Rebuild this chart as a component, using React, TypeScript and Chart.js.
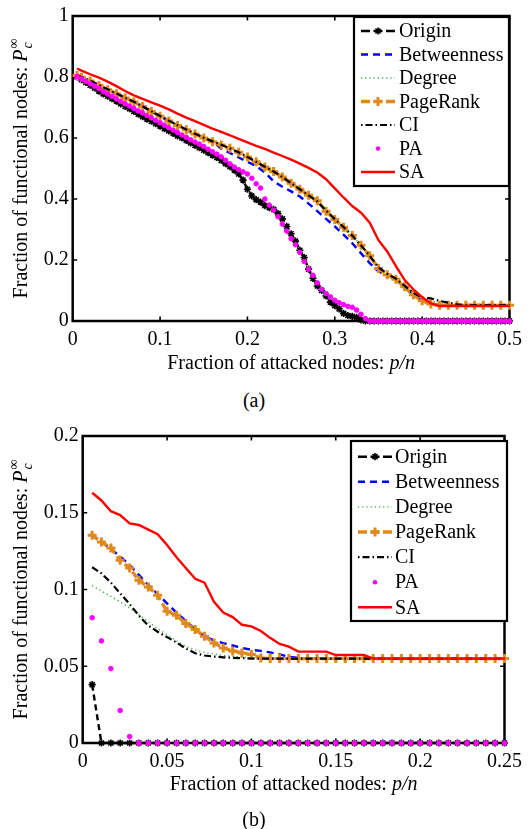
import React, { useEffect, useRef } from "react";
import { Chart, registerables } from "chart.js";

Chart.register(...registerables);

const FONT_FAMILY = '"Liberation Serif", "Times New Roman", Times, serif';

const SERIES_NAMES = ["Origin", "Betweenness", "Degree", "PageRank", "CI", "PA", "SA"];

// ---------------- Panel (a) data ----------------
const XA_FINE = [
  0.005, 0.01, 0.015, 0.02, 0.025, 0.03, 0.035, 0.04, 0.045, 0.05,
  0.055, 0.06, 0.065, 0.07, 0.075, 0.08, 0.085, 0.09, 0.095, 0.1,
  0.105, 0.11, 0.115, 0.12, 0.125, 0.13, 0.135, 0.14, 0.145, 0.15,
  0.155, 0.16, 0.165, 0.17, 0.175, 0.18, 0.185, 0.19, 0.195, 0.2,
  0.205, 0.21, 0.215, 0.22, 0.225, 0.23, 0.235, 0.24, 0.245, 0.25,
  0.255, 0.26, 0.265, 0.27, 0.275, 0.28, 0.285, 0.29, 0.295, 0.3,
  0.305, 0.31, 0.315, 0.32, 0.325, 0.33, 0.335, 0.34, 0.345, 0.35,
  0.355, 0.36, 0.365, 0.37, 0.375, 0.38, 0.385, 0.39, 0.395, 0.4,
  0.405, 0.41, 0.415, 0.42, 0.425, 0.43, 0.435, 0.44, 0.445, 0.45,
  0.455, 0.46, 0.465, 0.47, 0.475, 0.48, 0.485, 0.49, 0.495, 0.5,
];

const XA_COARSE = [
  0.005, 0.01, 0.02, 0.03, 0.04, 0.05, 0.06, 0.07, 0.08, 0.09, 0.1,
  0.11, 0.12, 0.13, 0.14, 0.15, 0.16, 0.17, 0.18, 0.19, 0.2,
  0.21, 0.22, 0.23, 0.24, 0.25, 0.26, 0.27, 0.28, 0.29, 0.3,
  0.31, 0.32, 0.33, 0.34, 0.35, 0.36, 0.37, 0.38, 0.39, 0.4,
  0.41, 0.42, 0.43, 0.44, 0.45, 0.46, 0.47, 0.48, 0.49, 0.5,
];

const ORIGIN_A = [
  0.800, 0.791, 0.782, 0.773, 0.764, 0.754, 0.745, 0.737, 0.729, 0.721,
  0.712, 0.704, 0.696, 0.687, 0.678, 0.670, 0.662, 0.655, 0.647, 0.639,
  0.631, 0.623, 0.615, 0.607, 0.600, 0.592, 0.584, 0.576, 0.568, 0.560,
  0.552, 0.544, 0.536, 0.527, 0.516, 0.506, 0.495, 0.482, 0.462, 0.432,
  0.410, 0.398, 0.390, 0.378, 0.372, 0.366, 0.352, 0.335, 0.310, 0.286,
  0.262, 0.232, 0.208, 0.170, 0.140, 0.115, 0.100, 0.082, 0.062, 0.050,
  0.040, 0.025, 0.018, 0.015, 0.012, 0.004, 0, 0, 0, 0,
  0, 0, 0, 0, 0, 0, 0, 0, 0, 0,
  0, 0, 0, 0, 0, 0, 0, 0, 0, 0,
  0, 0, 0, 0, 0, 0, 0, 0, 0, 0,
];

const PA_A = [
  0.802, 0.794, 0.786, 0.778, 0.770, 0.762, 0.752, 0.744, 0.736, 0.728,
  0.720, 0.712, 0.705, 0.697, 0.689, 0.682, 0.674, 0.666, 0.658, 0.650,
  0.642, 0.634, 0.626, 0.618, 0.610, 0.602, 0.594, 0.587, 0.580, 0.572,
  0.563, 0.555, 0.547, 0.538, 0.527, 0.515, 0.505, 0.496, 0.489, 0.482,
  0.468, 0.450, 0.436, 0.400, 0.380, 0.364, 0.342, 0.318, 0.295, 0.270,
  0.250, 0.225, 0.195, 0.170, 0.150, 0.125, 0.104, 0.090, 0.079, 0.068,
  0.060, 0.054, 0.048, 0.045, 0.036, 0.022, 0.008, 0, 0, 0,
  0, 0, 0, 0, 0, 0, 0, 0, 0, 0,
  0, 0, 0, 0, 0, 0, 0, 0, 0, 0,
  0, 0, 0, 0, 0, 0, 0, 0, 0, 0,
];

const PAGERANK_A = [
  0.805, 0.799, 0.787, 0.772, 0.758, 0.745, 0.731, 0.718, 0.703, 0.687, 0.671,
  0.656, 0.641, 0.627, 0.613, 0.600, 0.588, 0.577, 0.566, 0.553, 0.538,
  0.522, 0.505, 0.490, 0.472, 0.452, 0.432, 0.412, 0.394, 0.360, 0.333,
  0.307, 0.280, 0.248, 0.214, 0.172, 0.152, 0.137, 0.112, 0.086, 0.066,
  0.056, 0.052, 0.052, 0.052, 0.052, 0.052, 0.052, 0.052, 0.052, 0.052,
];

const BETWEENNESS_A = [
  0.805, 0.799, 0.787, 0.772, 0.758, 0.745, 0.731, 0.718, 0.703, 0.687, 0.671,
  0.656, 0.641, 0.627, 0.613, 0.600, 0.588, 0.565, 0.551, 0.536, 0.522,
  0.508, 0.487, 0.458, 0.440, 0.425, 0.408, 0.385, 0.360, 0.335, 0.310,
  0.283, 0.255, 0.222, 0.190, 0.162, 0.150, 0.135, 0.110, 0.085, 0.066,
  0.056, 0.052, 0.052, 0.052, 0.052, 0.052, 0.052, 0.052, 0.052, 0.052,
];

const DEGREE_A = [
  0.805, 0.799, 0.787, 0.772, 0.758, 0.745, 0.731, 0.718, 0.703, 0.687, 0.671,
  0.656, 0.641, 0.627, 0.613, 0.600, 0.588, 0.577, 0.566, 0.553, 0.538,
  0.522, 0.508, 0.497, 0.478, 0.452, 0.432, 0.412, 0.394, 0.360, 0.333,
  0.307, 0.280, 0.248, 0.214, 0.174, 0.154, 0.139, 0.114, 0.090, 0.075,
  0.066, 0.058, 0.054, 0.052, 0.052, 0.052, 0.052, 0.052, 0.052, 0.052,
];

const CI_A = [
  0.806, 0.800, 0.788, 0.774, 0.760, 0.746, 0.732, 0.719, 0.704, 0.688, 0.672,
  0.657, 0.642, 0.628, 0.614, 0.601, 0.589, 0.578, 0.566, 0.553, 0.538,
  0.522, 0.506, 0.490, 0.472, 0.452, 0.432, 0.412, 0.392, 0.362, 0.334,
  0.308, 0.280, 0.248, 0.214, 0.176, 0.155, 0.139, 0.115, 0.092, 0.076,
  0.074, 0.066, 0.060, 0.055, 0.052, 0.052, 0.052, 0.052, 0.052, 0.052,
];

const SA_A = [
  0.828, 0.821, 0.809, 0.798, 0.785, 0.770, 0.754, 0.740, 0.728, 0.717, 0.706,
  0.694, 0.680, 0.667, 0.655, 0.643, 0.631, 0.620, 0.609, 0.597, 0.586,
  0.574, 0.564, 0.552, 0.541, 0.529, 0.516, 0.502, 0.487, 0.465, 0.435,
  0.405, 0.377, 0.355, 0.322, 0.265, 0.228, 0.180, 0.134, 0.104, 0.078,
  0.058, 0.049, 0.049, 0.049, 0.049, 0.049, 0.049, 0.049, 0.049, 0.049,
];

const XA_TICKS = [0, 0.1, 0.2, 0.3, 0.4, 0.5];
const YA_TICKS = [0, 0.2, 0.4, 0.6, 0.8, 1];

// ---------------- Panel (b) data ----------------
const XB = [
  0.0056, 0.0111, 0.0167, 0.0222, 0.0278, 0.0333, 0.0389, 0.0444, 0.05, 0.0556,
  0.0611, 0.0667, 0.0722, 0.0778, 0.0833, 0.0889, 0.0944, 0.1, 0.1056, 0.1111,
  0.1167, 0.1222, 0.1278, 0.1333, 0.1389, 0.1444, 0.15, 0.1556, 0.1611, 0.1667,
  0.1722, 0.1778, 0.1833, 0.1889, 0.1944, 0.2, 0.2056, 0.2111, 0.2167, 0.2222,
  0.2278, 0.2333, 0.2389, 0.2444, 0.25,
];

const ORIGIN_B = [
  0.038, 0, 0, 0, 0, 0, 0, 0, 0, 0,
  0, 0, 0, 0, 0, 0, 0, 0, 0, 0,
  0, 0, 0, 0, 0, 0, 0, 0, 0, 0,
  0, 0, 0, 0, 0, 0, 0, 0, 0, 0,
  0, 0, 0, 0, 0,
];

const BETWEENNESS_B = [
  0.1355, 0.131, 0.1265, 0.1215, 0.116, 0.1095, 0.103, 0.097, 0.091, 0.085,
  0.0795, 0.074, 0.0695, 0.0668, 0.065, 0.0635, 0.062, 0.0607, 0.06, 0.059,
  0.0577, 0.0562, 0.0555, 0.055, 0.055, 0.055, 0.055, 0.055, 0.055, 0.055,
  0.055, 0.055, 0.055, 0.055, 0.055, 0.055, 0.055, 0.055, 0.055, 0.055,
  0.055, 0.055, 0.055, 0.055, 0.055,
];

const DEGREE_B = [
  0.1025, 0.099, 0.0955, 0.092, 0.088, 0.0835, 0.079, 0.0745, 0.0705, 0.0665,
  0.063, 0.0605, 0.059, 0.058, 0.057, 0.0565, 0.056, 0.0555, 0.055, 0.055,
  0.055, 0.055, 0.055, 0.055, 0.055, 0.055, 0.055, 0.055, 0.055, 0.055,
  0.055, 0.055, 0.055, 0.055, 0.055, 0.055, 0.055, 0.055, 0.055, 0.055,
  0.055, 0.055, 0.055, 0.055, 0.055,
];

const PAGERANK_B = [
  0.1353, 0.1309, 0.127, 0.119, 0.114, 0.106, 0.1016, 0.0962, 0.0858, 0.0832,
  0.0778, 0.0739, 0.0695, 0.0652, 0.0619, 0.06, 0.0587, 0.0576, 0.0554, 0.055,
  0.055, 0.055, 0.055, 0.055, 0.055, 0.055, 0.055, 0.055, 0.055, 0.055,
  0.055, 0.055, 0.055, 0.055, 0.055, 0.055, 0.055, 0.055, 0.055, 0.055,
  0.055, 0.055, 0.055, 0.055, 0.055,
];

const CI_B = [
  0.1145, 0.1105, 0.1045, 0.0975, 0.0905, 0.083, 0.0765, 0.0725, 0.069, 0.0655,
  0.0615, 0.0585, 0.057, 0.0563, 0.0558, 0.0555, 0.0553, 0.055, 0.055, 0.055,
  0.055, 0.055, 0.055, 0.055, 0.055, 0.055, 0.055, 0.055, 0.055, 0.055,
  0.055, 0.055, 0.055, 0.055, 0.055, 0.055, 0.055, 0.055, 0.055, 0.055,
  0.055, 0.055, 0.055, 0.055, 0.055,
];

const PA_B = [
  0.0816, 0.0665, 0.0485, 0.0212, 0.0042, 0, 0, 0, 0, 0,
  0, 0, 0, 0, 0, 0, 0, 0, 0, 0,
  0, 0, 0, 0, 0, 0, 0, 0, 0, 0,
  0, 0, 0, 0, 0, 0, 0, 0, 0, 0,
  0, 0, 0, 0, 0,
];

const SA_B = [
  0.163, 0.158, 0.151, 0.1485, 0.143, 0.142, 0.139, 0.136, 0.129, 0.121,
  0.114, 0.107, 0.1045, 0.092, 0.085, 0.082, 0.077, 0.076, 0.073, 0.0685,
  0.0645, 0.0628, 0.0595, 0.0595, 0.0595, 0.0595, 0.0573, 0.0573, 0.0573, 0.0573,
  0.055, 0.055, 0.055, 0.055, 0.055, 0.055, 0.055, 0.055, 0.055, 0.055,
  0.055, 0.055, 0.055, 0.055, 0.055,
];

const XB_TICKS = [0, 0.05, 0.1, 0.15, 0.2, 0.25];
const YB_TICKS = [0, 0.05, 0.1, 0.15, 0.2];

// ---------------- Styles ----------------
type Marker = "star" | "cross" | "circle" | null;
type Style = {
  color: string;
  width: number;
  dash: number[];
  legendDash: number[];
  marker: Marker;
  markerSize: number;
  markerWidth: number;
  line: boolean;
  order: number;
};

const STYLES: Record<string, Style> = {
  Origin: { color: "#000000", width: 2.4, dash: [6, 4], legendDash: [9, 3.5], marker: "star", markerSize: 3.6, markerWidth: 1.6, line: true, order: 6 },
  Betweenness: { color: "#0000ff", width: 2.4, dash: [7, 5], legendDash: [7, 5], marker: null, markerSize: 0, markerWidth: 0, line: true, order: 5 },
  Degree: { color: "#3aa83a", width: 1.4, dash: [1.2, 3], legendDash: [1.2, 3], marker: null, markerSize: 0, markerWidth: 0, line: true, order: 4 },
  PageRank: { color: "#e0891c", width: 3.4, dash: [7, 4], legendDash: [9, 3.5], marker: "cross", markerSize: 4.5, markerWidth: 3, line: true, order: 3 },
  CI: { color: "#000000", width: 2.2, dash: [7, 3, 1.5, 3], legendDash: [1.5, 3, 7, 3], marker: null, markerSize: 0, markerWidth: 0, line: true, order: 2 },
  PA: { color: "#ff00ff", width: 0, dash: [], legendDash: [], marker: "circle", markerSize: 2.3, markerWidth: 1, line: false, order: 1 },
  SA: { color: "#ff0000", width: 2.4, dash: [], legendDash: [], marker: null, markerSize: 0, markerWidth: 0, line: true, order: 0 },
};

type Series = { name: string; xs: number[]; ys: number[] };
type PanelSpec = {
  canvasH: number;
  area: { left: number; right: number; top: number; bottom: number };
  xMax: number;
  yMax: number;
  xTicks: number[];
  yTicks: number[];
  xTitleOffset: number;
  yTitleX: number;
  legend: { left: number; right: number; top: number; bottom: number; firstRow: number; rowStep: number; s0: number; s1: number; textX: number };
  series: Series[];
};

const PANEL_A: PanelSpec = {
  canvasH: 385,
  area: { left: 72.7, right: 514.5, top: 13.5, bottom: 321 },
  xMax: 0.5,
  yMax: 1,
  xTicks: XA_TICKS,
  yTicks: YA_TICKS,
  xTitleOffset: 48,
  yTitleX: 27,
  legend: { left: 354, right: 509, top: 17, bottom: 186, firstRow: 31, rowStep: 23.5, s0: 361, s1: 395, textX: 399 },
  series: [
    { name: "Origin", xs: XA_FINE, ys: ORIGIN_A },
    { name: "Betweenness", xs: XA_COARSE, ys: BETWEENNESS_A },
    { name: "Degree", xs: XA_COARSE, ys: DEGREE_A },
    { name: "PageRank", xs: XA_COARSE, ys: PAGERANK_A },
    { name: "CI", xs: XA_COARSE, ys: CI_A },
    { name: "PA", xs: XA_FINE, ys: PA_A },
    { name: "SA", xs: XA_COARSE, ys: SA_A },
  ],
};

const PANEL_B: PanelSpec = {
  canvasH: 395,
  area: { left: 82.7, right: 511.5, top: 16, bottom: 323 },
  xMax: 0.25,
  yMax: 0.2,
  xTicks: XB_TICKS,
  yTicks: YB_TICKS,
  xTitleOffset: 47,
  yTitleX: 27,
  legend: { left: 351, right: 507, top: 21, bottom: 201, firstRow: 36.7, rowStep: 25.1, s0: 358, s1: 392, textX: 395 },
  series: [
    { name: "Origin", xs: XB, ys: ORIGIN_B },
    { name: "Betweenness", xs: XB, ys: BETWEENNESS_B },
    { name: "Degree", xs: XB, ys: DEGREE_B },
    { name: "PageRank", xs: XB, ys: PAGERANK_B },
    { name: "CI", xs: XB, ys: CI_B },
    { name: "PA", xs: XB, ys: PA_B },
    { name: "SA", xs: XB, ys: SA_B },
  ],
};

// ---------------- Drawing helpers ----------------
function drawMarker(ctx: CanvasRenderingContext2D, m: Marker, x: number, y: number, st: Style) {
  if (!m) return;
  ctx.save();
  ctx.setLineDash([]);
  ctx.strokeStyle = st.color;
  ctx.fillStyle = st.color;
  ctx.lineWidth = st.markerWidth;
  const r = st.markerSize;
  if (m === "circle") {
    ctx.beginPath();
    ctx.arc(x, y, r, 0, Math.PI * 2);
    ctx.fill();
  } else {
    ctx.beginPath();
    ctx.moveTo(x - r, y);
    ctx.lineTo(x + r, y);
    ctx.moveTo(x, y - r);
    ctx.lineTo(x, y + r);
    if (m === "star") {
      const d = r * 0.7071;
      ctx.moveTo(x - d, y - d);
      ctx.lineTo(x + d, y + d);
      ctx.moveTo(x - d, y + d);
      ctx.lineTo(x + d, y - d);
    }
    ctx.stroke();
  }
  ctx.restore();
}

const fmt = (v: number | string) => String(Math.round(Number(v) * 1000) / 1000);

function makeDecor(p: PanelSpec) {
  return {
    id: "decor",
    beforeDatasetsDraw(chart: any) {
      const { ctx, chartArea: a, scales } = chart;
      ctx.save();
      ctx.strokeStyle = "#000";
      ctx.lineWidth = 2.5;
      ctx.strokeRect(a.left, a.top, a.right - a.left, a.bottom - a.top);
      ctx.lineWidth = 1.6;
      const tl = 4.5;
      ctx.beginPath();
      p.xTicks.forEach((v) => {
        const px = scales.x.getPixelForValue(v);
        ctx.moveTo(px, a.bottom);
        ctx.lineTo(px, a.bottom - tl);
        ctx.moveTo(px, a.top);
        ctx.lineTo(px, a.top + tl);
      });
      p.yTicks.forEach((v) => {
        const py = scales.y.getPixelForValue(v);
        ctx.moveTo(a.left, py);
        ctx.lineTo(a.left + tl, py);
        ctx.moveTo(a.right, py);
        ctx.lineTo(a.right - tl, py);
      });
      ctx.stroke();
      ctx.restore();
    },
    afterDatasetsDraw(chart: any) {
      const { ctx } = chart;
      const L = p.legend;
      ctx.save();
      ctx.fillStyle = "#fff";
      ctx.fillRect(L.left, L.top, L.right - L.left, L.bottom - L.top);
      ctx.strokeStyle = "#000";
      ctx.lineWidth = 2.2;
      ctx.strokeRect(L.left, L.top, L.right - L.left, L.bottom - L.top);
      SERIES_NAMES.forEach((name, i) => {
        const st = STYLES[name];
        const y = L.firstRow + i * L.rowStep;
        if (st.line) {
          ctx.save();
          ctx.strokeStyle = st.color;
          ctx.lineWidth = st.width;
          ctx.setLineDash(st.legendDash);
          ctx.beginPath();
          ctx.moveTo(L.s0, y);
          ctx.lineTo(L.s1, y);
          ctx.stroke();
          ctx.restore();
        }
        drawMarker(ctx, st.marker, (L.s0 + L.s1) / 2, y, st);
        ctx.fillStyle = "#000";
        ctx.font = `20px ${FONT_FAMILY}`;
        ctx.textAlign = "left";
        ctx.textBaseline = "middle";
        ctx.fillText(name, L.textX, y + 1);
      });
      ctx.restore();
    },
    afterDraw(chart: any) {
      const { ctx, chartArea: a } = chart;
      const f = `20px ${FONT_FAMILY}`;
      const fi = `italic 20px ${FONT_FAMILY}`;
      const fs = `italic 14px ${FONT_FAMILY}`;
      const fsu = `14px ${FONT_FAMILY}`;
      ctx.save();
      ctx.fillStyle = "#000";
      ctx.textAlign = "left";
      ctx.textBaseline = "alphabetic";
      // x title
      const t1 = "Fraction of attacked nodes: ";
      const t2 = "p/n";
      ctx.font = f;
      const w1 = ctx.measureText(t1).width;
      ctx.font = fi;
      const w2 = ctx.measureText(t2).width;
      const cx = (a.left + a.right) / 2;
      const x0 = cx - (w1 + w2) / 2;
      const yb = a.bottom + p.xTitleOffset;
      ctx.font = f;
      ctx.fillText(t1, x0, yb);
      ctx.font = fi;
      ctx.fillText(t2, x0 + w1, yb);
      // y title
      const m1 = "Fraction of functional nodes: ";
      ctx.font = f;
      const mw = ctx.measureText(m1).width;
      ctx.font = fi;
      const pw = ctx.measureText("P").width;
      ctx.font = fs;
      const cw = ctx.measureText("c").width;
      ctx.font = fsu;
      const iw = ctx.measureText("∞").width;
      const total = mw + pw + 1 + Math.max(cw, iw);
      ctx.translate(p.yTitleX, (a.top + a.bottom) / 2);
      ctx.rotate(-Math.PI / 2);
      let x = -total / 2;
      ctx.font = f;
      ctx.fillText(m1, x, 0);
      x += mw;
      ctx.font = fi;
      ctx.fillText("P", x, 0);
      x += pw + 1;
      ctx.font = fs;
      ctx.fillText("c", x, 5);
      ctx.font = fsu;
      ctx.fillText("∞", x, -9);
      ctx.restore();
    },
  };
}

function buildConfig(p: PanelSpec): any {
  const datasets = p.series.map((s) => {
    const st = STYLES[s.name];
    return {
      label: s.name,
      data: s.xs.map((x, i) => ({ x, y: s.ys[i] })),
      borderColor: st.color,
      backgroundColor: st.color,
      borderWidth: st.line ? st.width : 0,
      borderDash: st.dash,
      showLine: st.line,
      pointStyle: st.marker || "circle",
      pointRadius: st.marker ? st.markerSize : 0,
      pointHoverRadius: 0,
      pointBorderWidth: st.markerWidth,
      pointBorderColor: st.color,
      pointBackgroundColor: st.color,
      fill: false,
      tension: 0,
      order: st.order,
      clip: false,
    };
  });
  const W = 529;
  const tickFont = { family: FONT_FAMILY, size: 20 };
  return {
    type: "line",
    data: { datasets },
    options: {
      responsive: false,
      maintainAspectRatio: false,
      animation: false,
      devicePixelRatio: 1,
      events: [],
      layout: {
        autoPadding: false,
        padding: { left: 0, top: p.area.top, right: W - p.area.right, bottom: 0 },
      },
      plugins: { legend: { display: false }, tooltip: { enabled: false }, title: { display: false } },
      scales: {
        x: {
          type: "linear",
          min: 0,
          max: p.xMax,
          afterFit: (s: any) => {
            s.height = p.canvasH - p.area.bottom;
          },
          afterBuildTicks: (s: any) => {
            s.ticks = p.xTicks.map((v) => ({ value: v }));
          },
          grid: { display: false, drawTicks: false },
          border: { display: false },
          ticks: { padding: 7, color: "#000", font: tickFont, maxRotation: 0, autoSkip: false, callback: fmt },
        },
        y: {
          type: "linear",
          min: 0,
          max: p.yMax,
          afterFit: (s: any) => {
            s.width = p.area.left;
          },
          afterBuildTicks: (s: any) => {
            s.ticks = p.yTicks.map((v) => ({ value: v }));
          },
          grid: { display: false, drawTicks: false },
          border: { display: false },
          ticks: { padding: 4, color: "#000", font: tickFont, autoSkip: false, callback: fmt },
        },
      },
    },
    plugins: [makeDecor(p)],
  };
}

function Panel({ spec, top }: { spec: PanelSpec; top: number }) {
  const ref = useRef<HTMLCanvasElement>(null);
  useEffect(() => {
    if (!ref.current) return;
    const chart = new Chart(ref.current, buildConfig(spec));
    return () => chart.destroy();
  }, [spec]);
  return (
    <canvas
      ref={ref}
      width={529}
      height={spec.canvasH}
      style={{ position: "absolute", left: 0, top, width: 529, height: spec.canvasH }}
    />
  );
}

const captionStyle: React.CSSProperties = {
  position: "absolute",
  left: 0,
  width: 508,
  textAlign: "center",
  fontFamily: FONT_FAMILY,
  fontSize: 20,
  lineHeight: "24px",
  color: "#000",
};

export default function App() {
  return (
    <div style={{ position: "absolute", left: 0, top: 0, width: 529, height: 829, background: "#fff", overflow: "hidden" }}>
      <Panel spec={PANEL_A} top={0} />
      <Panel spec={PANEL_B} top={420} />
      <div style={{ ...captionStyle, top: 388 }}>(a)</div>
      <div style={{ ...captionStyle, top: 807 }}>(b)</div>
    </div>
  );
}
